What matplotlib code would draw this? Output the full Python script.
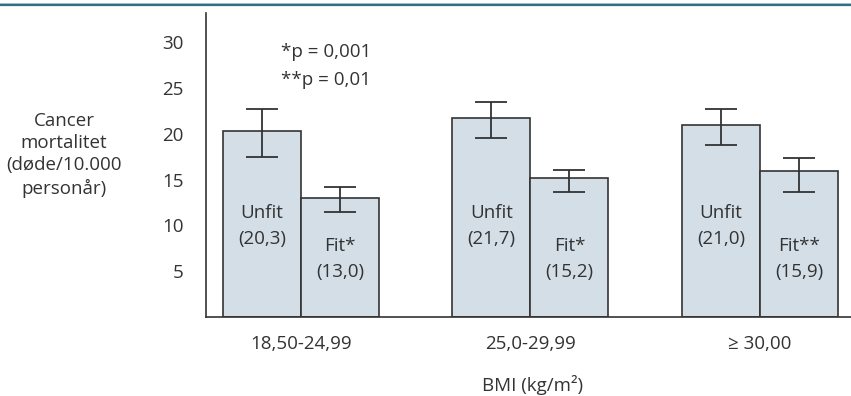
import numpy as np
import matplotlib.pyplot as plt
from matplotlib.lines import Line2D

plt.rcParams['font.family'] = ['Open Sans', 'DejaVu Sans']

# BMI groups and mortality per 10.000 person-years
groups = ['18,50-24,99', '25,0-29,99', '\u2265 30,00']
unfit = [20.3, 21.7, 21.0]
fit = [13.0, 15.2, 15.9]
unfit_lo = [17.5, 19.5, 18.8]
unfit_hi = [22.7, 23.5, 22.7]
fit_lo = [11.5, 13.6, 13.6]
fit_hi = [14.2, 16.1, 17.4]
fit_marks = ['*', '*', '**']
yticks = [5, 10, 15, 20, 25, 30]

txt = '#333333'
barcol = '#d3dee6'
edge = '#333333'
fs = 13.5

fig = plt.figure(figsize=(8.51, 3.96), dpi=100)
ax = fig.add_axes([206/851, 1-317/396, 1-206/851, (317-13)/396])

ind = np.arange(len(groups))
width = 0.34
unfit = np.array(unfit)
fit = np.array(fit)
uerr = [unfit - np.array(unfit_lo), np.array(unfit_hi) - unfit]
ferr = [fit - np.array(fit_lo), np.array(fit_hi) - fit]

ax.bar(ind - width/2, unfit, width, color=barcol, edgecolor=edge, linewidth=1.2,
       yerr=uerr, capsize=11.5, error_kw=dict(ecolor=edge, elinewidth=1.3, capthick=1.3))
ax.bar(ind + width/2, fit, width, color=barcol, edgecolor=edge, linewidth=1.2,
       yerr=ferr, capsize=11.5, error_kw=dict(ecolor=edge, elinewidth=1.3, capthick=1.3))

for i in ind:
    ax.text(i - width/2, 9.9, 'Unfit\n(%s)' % ('%.1f' % unfit[i]).replace('.', ','),
            ha='center', va='center', fontsize=fs, color=txt, linespacing=1.55)
    ax.text(i + width/2, 6.3, 'Fit%s\n(%s)' % (fit_marks[i], ('%.1f' % fit[i]).replace('.', ',')),
            ha='center', va='center', fontsize=fs, color=txt, linespacing=1.55)

ax.set_xlim(-0.414, 2.397)
ax.set_ylim(0, 33.2)
ax.set_yticks(yticks)
ax.set_yticklabels([str(t) for t in yticks], fontsize=fs, color=txt)
ax.set_xticks(ind)
ax.set_xticklabels(groups, fontsize=fs, color=txt)
ax.tick_params(axis='y', length=0, pad=16)
ax.tick_params(axis='x', length=0, pad=13)
for s in ['top', 'right']:
    ax.spines[s].set_visible(False)
for s in ['left', 'bottom']:
    ax.spines[s].set_color(edge)
    ax.spines[s].set_linewidth(1.2)
ax.set_facecolor('none')

ax.text(0.11, 28.9, '*p = 0,001', ha='center', va='center', fontsize=fs, color=txt)
ax.text(0.11, 25.9, '**p = 0,01', ha='center', va='center', fontsize=fs, color=txt)

fig.text(64/851, 1-155/396, 'Cancer\nmortalitet\n(døde/10.000\npersonår)',
         ha='center', va='center', fontsize=fs, color=txt, linespacing=1.3)
fig.text(533/851, 1-385/396, 'BMI (kg/m\u00b2)', ha='center', va='center',
         fontsize=fs, color=txt)

# teal rule at the top
fig.add_artist(Line2D([0, 1], [1-3.5/396]*2, color='#9bbcc8', linewidth=1.2))
fig.add_artist(Line2D([0, 1], [1-5/396]*2, color='#2e7282', linewidth=1.6))

fig.savefig('out.png', dpi=100)
